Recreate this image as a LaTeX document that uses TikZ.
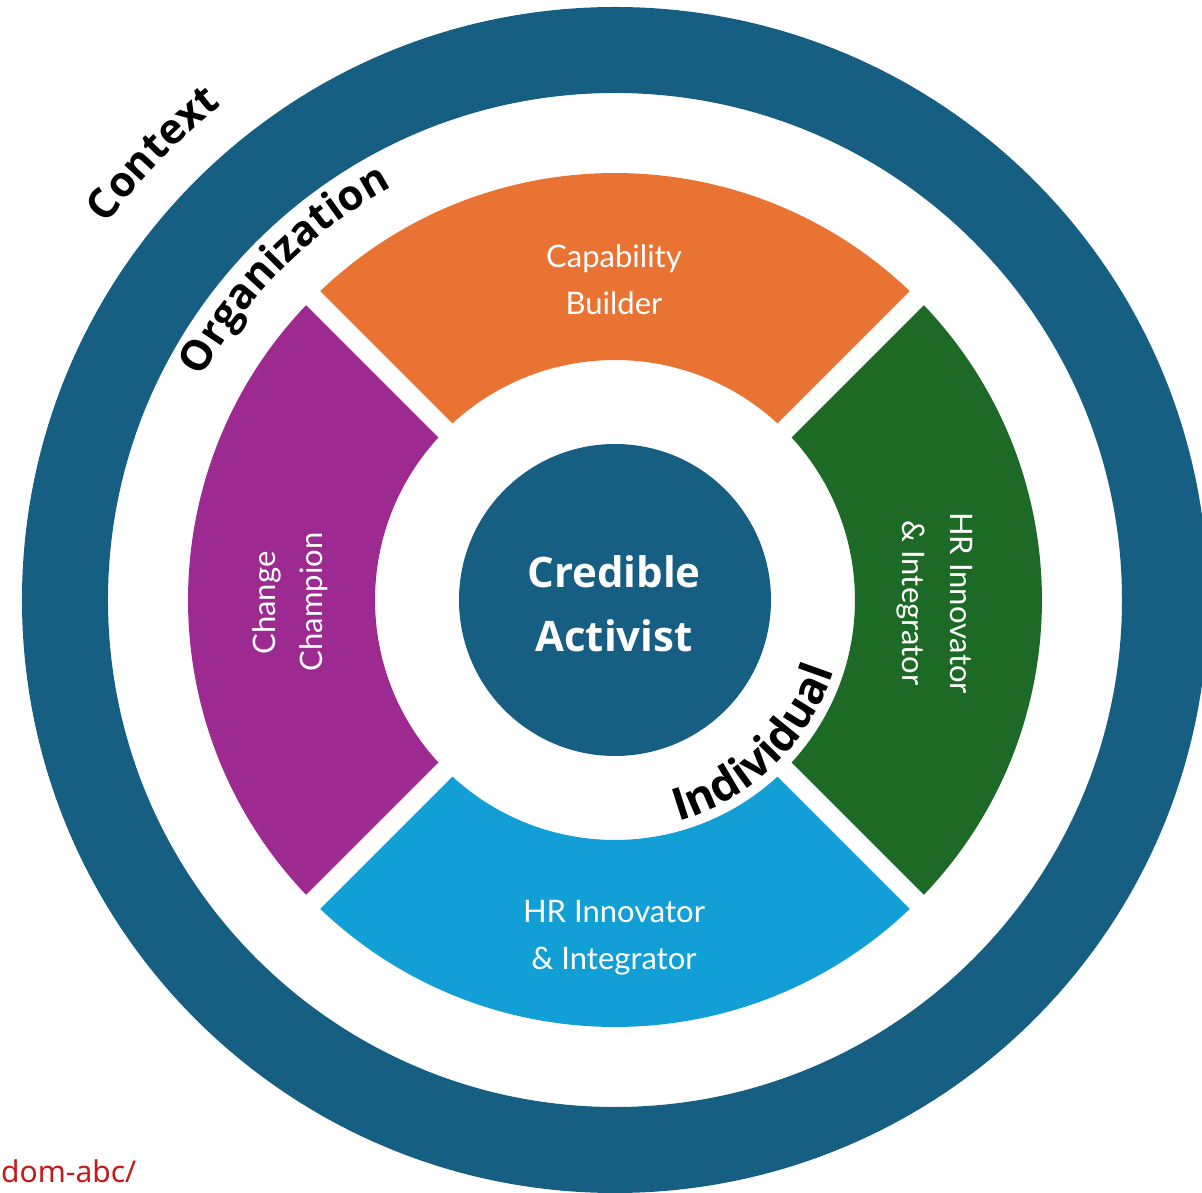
\documentclass[tikz,border=0pt]{standalone}
\usepackage{fontspec}
\setmainfont{Lato}
\newfontfamily\osans{Open Sans}
\newfontfamily\notosans{Noto Sans}
\usetikzlibrary{decorations.text}
\definecolor{ringblue}{HTML}{175F82}
\definecolor{segorange}{HTML}{E87333}
\definecolor{segpurple}{HTML}{9D2A91}
\definecolor{seggreen}{HTML}{1C6A25}
\definecolor{segblue}{HTML}{129FD6}
\definecolor{wmred}{HTML}{C41A1A}
\newcommand\arcfont{\osans\bfseries\fontsize{42}{50}\selectfont}
\newcommand\arcfontb{\osans\bfseries\fontsize{45}{52}\selectfont}
\newcommand\hrseg[2]{%
  \fill[#2] ({#1+45-1.342}:427pt) arc[start angle={#1+45-1.342}, end angle={#1-45+1.342}, radius=427pt]
    -- ({#1-45+2.388}:240pt) arc[start angle={#1-45+2.388}, end angle={#1+45-2.388}, radius=240pt] -- cycle;}
\tikzset{
  seglabel/.style={text=white, font=\fontsize{31}{36}\selectfont, inner sep=0pt, anchor=base},
  corelabel/.style={text=white, font=\osans\bfseries\fontsize{42}{50}\selectfont, inner sep=0pt, anchor=base},
  arclabel/.style={decorate, decoration={text along path, text align=center, text color=black, text={|\arcfont|#1}}},
  arclabelb/.style={decorate, decoration={text along path, text align=center, text color=black, text={|\arcfontb|#1}}}
}
\begin{document}
\begin{tikzpicture}[x=1pt,y=1pt]
\useasboundingbox (-615,-593) rectangle (587,600);
% outer context ring
\fill[ringblue, even odd rule] (0,0) circle[radius=593pt] (0,0) circle[radius=507pt];
% four segments
\hrseg{90}{segorange}
\hrseg{180}{segpurple}
\hrseg{0}{seggreen}
\hrseg{270}{segblue}
% core
\node[circle, fill=ringblue, minimum size=312pt, inner sep=0pt] (core) at (0,0) {};
\node[corelabel] (cred) at (-1,12) {Credible};
\node[corelabel] (act) at (-1,-52) {Activist};
% segment labels
\node[seglabel] (cap1) at (-1,332) {Capability};
\node[seglabel] (cap2) at (-1,285) {Builder};
\node[seglabel] (bot1) at (-1,-322) {HR Innovator};
\node[seglabel] (bot2) at (-1,-369) {\& Integrator};
\node[seglabel, rotate=90] (left1) at (-339,-3) {Change};
\node[seglabel, rotate=90] (left2) at (-292,-2) {Champion};
\node[seglabel, rotate=-90] (right1) at (335,-3) {HR Innovator};
\node[seglabel, rotate=-90] (right2) at (287,-3) {\& Integrator};
% curved labels
\path[arclabel=Context] (166:632pt) arc[start angle=166, end angle=106, radius=632pt];
\path[arclabel=Organization] (175:469pt) arc[start angle=175, end angle=95, radius=469pt];
\path[arclabelb=Individual] (-86:230pt) arc[start angle=-86, end angle=-6, radius=230pt];
% watermark
\node[anchor=base west, inner sep=0pt, text=wmred, font=\notosans\fontsize{30}{36}\selectfont] (wm) at (-614,-582) {dom-abc/};
\end{tikzpicture}
\end{document}
